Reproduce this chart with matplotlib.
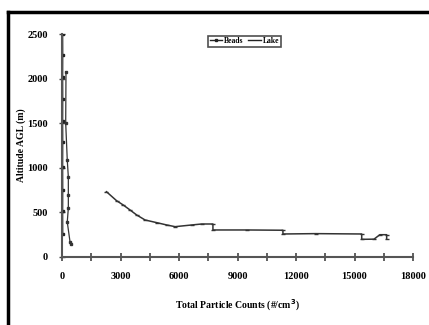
import numpy as np
import matplotlib.pyplot as plt
from matplotlib.lines import Line2D
from matplotlib.ticker import MultipleLocator

# series: total particle counts (#/cm3) vs altitude AGL (m)
beads_counts = [30, 35, 30, 35, 30, 35, 30, 35, 30, 35]
beads_alt = [2500, 2265, 2020, 1770, 1525, 1285, 1010, 750, 520, 258]

lake_counts = [205, 190, 270, 325, 325, 325, 270, 410, 480]
lake_alt = [2077, 1500, 1087, 897, 695, 549, 392, 172, 150]

far_counts = [2280, 2800, 3140, 3490, 3830, 4260, 4860, 5370, 5800, 6650,
              7160, 7740, 7740, 9500, 11330, 11330, 13000, 15370, 15370,
              16000, 16300, 16650, 16650]
far_alt = [732, 631, 583, 527, 471, 415, 385, 359, 340, 359,
           370, 370, 303, 303, 300, 258, 262, 258, 198,
           200, 250, 250, 200]

x_ticks = [0, 3000, 6000, 9000, 12000, 15000, 18000]
y_ticks = [0, 500, 1000, 1500, 2000, 2500]

plt.rcParams['font.family'] = ['Liberation Serif', 'DejaVu Serif']
plt.rcParams['font.weight'] = 'bold'

fig = plt.figure(figsize=(4.29, 3.25), dpi=100)
ax = fig.add_axes([62 / 429, 1 - 257 / 325, (413 - 62) / 429, (257 - 34) / 325])

ax.plot(beads_counts, beads_alt, color='#222222', lw=1.0,
        marker='s', ms=1.8, mfc='#222222', mec='#222222')
ax.plot(lake_counts, lake_alt, color='#333333', lw=0.9,
        marker='s', ms=1.8, mfc='#333333', mec='#333333')
ax.plot(far_counts, far_alt, color='#333333', lw=1.1,
        marker='_', ms=3, mec='#333333')

ax.set_xlim(0, 18000)
ax.set_ylim(0, 2500)
ax.set_xticks(x_ticks)
ax.xaxis.set_minor_locator(MultipleLocator(1500))
ax.set_yticks(y_ticks)

for s in ('top', 'right'):
    ax.spines[s].set_visible(False)
for s in ('left', 'bottom'):
    ax.spines[s].set_color('#555555')
    ax.spines[s].set_linewidth(1.5)

ax.tick_params(axis='x', which='both', direction='inout', length=6, width=1.2,
               color='#444444', labelsize=7.5, pad=8)
ax.tick_params(axis='y', which='both', direction='inout', length=4, width=1.0,
               color='#444444', labelsize=7.5, pad=8)
for lab in ax.get_xticklabels() + ax.get_yticklabels():
    lab.set_fontweight('bold')

ax.set_ylabel('Altitude AGL (m)', fontsize=7, fontweight='bold', labelpad=1)
ax.set_xlabel('Total Particle Counts (#/cm$^3$)', fontsize=7, fontweight='bold', labelpad=12)

handles = [
    Line2D([], [], color='#222222', lw=1.0, marker='s', ms=2, mfc='#222222'),
    Line2D([], [], color='#222222', lw=1.0),
]
leg = ax.legend(handles, ['Beads', 'Lake'], loc='upper center', ncol=2,
                bbox_to_anchor=(0.52, 1.0), fontsize=5.5, frameon=True,
                fancybox=False, handlelength=1.6, handletextpad=0.3,
                columnspacing=0.6, borderpad=0.2, borderaxespad=0.2)
leg.get_frame().set_edgecolor('#222222')
leg.get_frame().set_linewidth(1.2)
for t in leg.get_texts():
    t.set_fontweight('bold')

# heavy frame around the whole picture (top and left visible)
fig.add_artist(Line2D([8 / 429, 1.0], [1 - 12 / 325, 1 - 12 / 325],
                      transform=fig.transFigure, color='black', lw=2.5))
fig.add_artist(Line2D([8 / 429, 8 / 429], [0.0, 1 - 12 / 325],
                      transform=fig.transFigure, color='black', lw=2.5))

fig.savefig('out.png', dpi=100)
